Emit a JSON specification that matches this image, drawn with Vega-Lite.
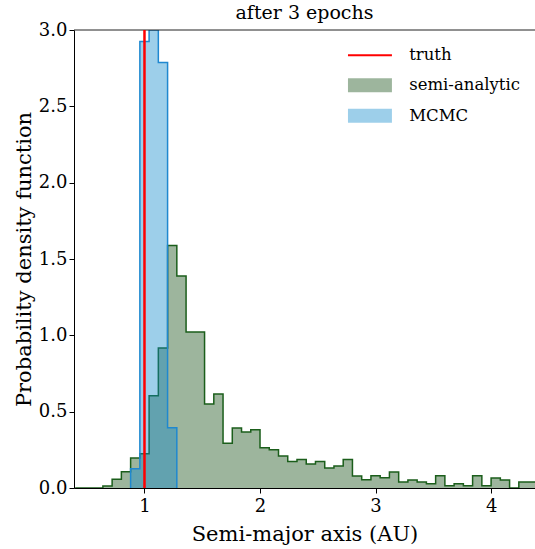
{
  "$schema": "https://vega.github.io/schema/vega-lite/v6.json",
  "width": 461,
  "height": 458,
  "autosize": {"type": "none"},
  "padding": {"left": 74, "top": 30, "right": 0, "bottom": 61},
  "background": "white",
  "config": {
    "view": {"stroke": null},
    "font": "DejaVu Serif",
    "axis": {
      "domainColor": "black",
      "tickColor": "black",
      "labelColor": "black",
      "titleColor": "black",
      "labelFont": "DejaVu Serif",
      "titleFont": "DejaVu Serif",
      "labelFontSize": 18,
      "titleFontSize": 21,
      "titleFontWeight": "normal",
      "grid": false,
      "tickSize": 5,
      "domainWidth": 1,
      "tickWidth": 1,
      "labelFlush": false
    },
    "legend": {
      "orient": "none",
      "title": null,
      "padding": 0,
      "symbolSize": 196,
      "labelOffset": 31,
      "rowPadding": 13.5,
      "labelFont": "DejaVu Serif",
      "labelFontSize": 16.5,
      "labelColor": "black"
    }
  },
  "title": {
    "text": "after 3 epochs",
    "font": "DejaVu Serif",
    "fontSize": 19,
    "fontWeight": "normal",
    "color": "black",
    "anchor": "middle",
    "frame": "group",
    "baseline": "bottom",
    "offset": -21
  },
  "datasets": {
    "green": [
      {"a": 0.40, "d": 0}, {"a": 0.48, "d": 0}, {"a": 0.56, "d": 0},
      {"a": 0.64, "d": 0.013}, {"a": 0.72, "d": 0.057}, {"a": 0.80, "d": 0.107},
      {"a": 0.88, "d": 0.197}, {"a": 0.96, "d": 0.225}, {"a": 1.04, "d": 0.605},
      {"a": 1.12, "d": 0.917}, {"a": 1.20, "d": 1.588}, {"a": 1.28, "d": 1.389},
      {"a": 1.36, "d": 1.022}, {"a": 1.44, "d": 1.022}, {"a": 1.52, "d": 0.550},
      {"a": 1.60, "d": 0.616}, {"a": 1.68, "d": 0.293}, {"a": 1.76, "d": 0.393},
      {"a": 1.84, "d": 0.367}, {"a": 1.92, "d": 0.382}, {"a": 2.00, "d": 0.264},
      {"a": 2.08, "d": 0.251}, {"a": 2.16, "d": 0.210}, {"a": 2.24, "d": 0.173},
      {"a": 2.32, "d": 0.186}, {"a": 2.40, "d": 0.157}, {"a": 2.48, "d": 0.173},
      {"a": 2.56, "d": 0.131}, {"a": 2.64, "d": 0.144}, {"a": 2.72, "d": 0.186},
      {"a": 2.80, "d": 0.079}, {"a": 2.88, "d": 0.054}, {"a": 2.96, "d": 0.081},
      {"a": 3.04, "d": 0.067}, {"a": 3.12, "d": 0.105}, {"a": 3.20, "d": 0.039},
      {"a": 3.28, "d": 0.052}, {"a": 3.36, "d": 0.039}, {"a": 3.44, "d": 0.028},
      {"a": 3.52, "d": 0.081}, {"a": 3.60, "d": 0.015}, {"a": 3.68, "d": 0.028},
      {"a": 3.76, "d": 0.015}, {"a": 3.84, "d": 0.081}, {"a": 3.92, "d": 0.015},
      {"a": 4.00, "d": 0.066}, {"a": 4.08, "d": 0.052}, {"a": 4.16, "d": 0},
      {"a": 4.24, "d": 0.039}, {"a": 4.32, "d": 0.039}, {"a": 4.40, "d": 0}
    ],
    "blue": [
      {"i": 0, "a": 0.88, "d": 0},
      {"i": 1, "a": 0.88, "d": 0.126},
      {"i": 2, "a": 0.96, "d": 2.925},
      {"i": 3, "a": 1.04, "d": 6.27},
      {"i": 4, "a": 1.12, "d": 2.787},
      {"i": 5, "a": 1.20, "d": 0.395},
      {"i": 6, "a": 1.28, "d": 0}
    ]
  },
  "layer": [
    {
      "data": {"name": "green"},
      "mark": {"type": "area", "interpolate": "step-after", "opacity": 0.4, "clip": true},
      "encoding": {
        "x": {
          "field": "a", "type": "quantitative",
          "scale": {"domain": [0.39, 4.38], "nice": false, "zero": false},
          "axis": {"title": "Semi-major axis (AU)", "values": [1, 2, 3, 4], "format": "d", "labelPadding": 4, "titlePadding": 8}
        },
        "y": {
          "field": "d", "type": "quantitative", "stack": null,
          "scale": {"domain": [0, 3], "nice": false, "clamp": true},
          "axis": {"title": "Probability density function", "values": [0, 0.5, 1, 1.5, 2, 2.5, 3], "format": ".1f", "labelPadding": 2, "titlePadding": 4}
        },
        "fill": {
          "datum": "semi-analytic",
          "scale": {"domain": ["semi-analytic", "MCMC"], "range": ["#094509", "#0a87ca"]},
          "legend": {
            "legendX": 287.7,
            "legendY": 47,
            "symbolType": "M-3.14,-1H3.14V1H-3.14Z"
          }
        }
      }
    },
    {
      "data": {"name": "green"},
      "mark": {"type": "line", "interpolate": "step-after", "stroke": "#1b5e1b", "strokeWidth": 1.5, "clip": true},
      "encoding": {
        "x": {"field": "a", "type": "quantitative"},
        "y": {"field": "d", "type": "quantitative"}
      }
    },
    {
      "data": {"name": "blue"},
      "transform": [{"filter": "datum.i > 0"}],
      "mark": {"type": "area", "interpolate": "step-after", "opacity": 0.4, "clip": true},
      "encoding": {
        "x": {"field": "a", "type": "quantitative"},
        "y": {"field": "d", "type": "quantitative", "stack": null},
        "fill": {"datum": "MCMC"}
      }
    },
    {
      "data": {"name": "blue"},
      "mark": {"type": "line", "interpolate": "step-after", "stroke": "#1f88d0", "strokeWidth": 1.5, "clip": true},
      "encoding": {
        "x": {"field": "a", "type": "quantitative"},
        "y": {"field": "d", "type": "quantitative"},
        "order": {"field": "i", "type": "quantitative"}
      }
    },
    {
      "data": {"values": [{"top": 3}]},
      "mark": {"type": "rule", "stroke": "#222222", "strokeWidth": 1},
      "encoding": {
        "y": {"field": "top", "type": "quantitative"}
      }
    },
    {
      "data": {"values": [{"truth": 1}]},
      "mark": {"type": "rule", "strokeWidth": 2.5},
      "encoding": {
        "x": {"field": "truth", "type": "quantitative"},
        "stroke": {
          "datum": "truth",
          "scale": {"domain": ["truth"], "range": ["#ff0000"]},
          "legend": {
            "legendX": 287.7,
            "legendY": 17,
            "encode": {
              "symbols": {
                "update": {
                  "shape": {"value": "M-3.14,-0.16H3.14V0.16H-3.14Z"},
                  "fill": {"value": "#ff0000"},
                  "strokeWidth": {"value": 0}
                }
              }
            }
          }
        }
      }
    }
  ]
}
